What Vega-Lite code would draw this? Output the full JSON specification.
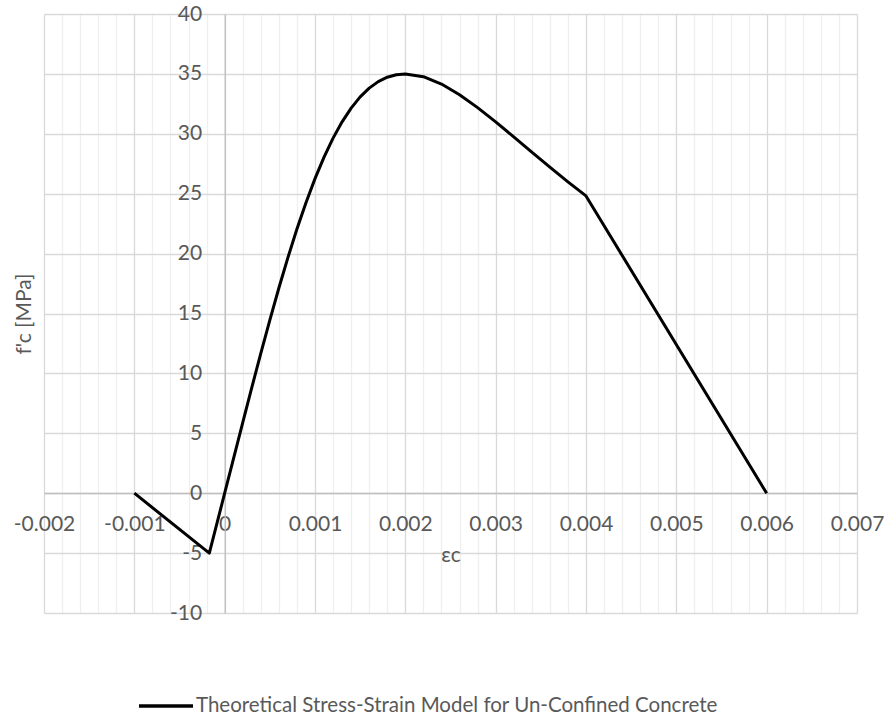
{
  "$schema": "https://vega.github.io/schema/vega-lite/v6.json",
  "width": 813,
  "height": 599,
  "autosize": "none",
  "padding": {"left": 44, "top": 14, "right": 31, "bottom": 108},
  "background": "white",
  "config": {
    "font": "Lato",
    "view": {"stroke": null},
    "axis": {"labelFont": "Lato", "titleFont": "Lato", "labelColor": "#595959", "titleColor": "#595959", "titleFontWeight": "normal"}
  },
  "data": {
    "values": [
      {"strain": -0.001, "stress": 0, "series": "Theoretical Stress-Strain Model for Un-Confined Concrete"},
      {"strain": -0.00017, "stress": -5, "series": "Theoretical Stress-Strain Model for Un-Confined Concrete"},
      {"strain": 0, "stress": 0, "series": "Theoretical Stress-Strain Model for Un-Confined Concrete"},
      {"strain": 0.0001, "stress": 2.956, "series": "Theoretical Stress-Strain Model for Un-Confined Concrete"},
      {"strain": 0.0002, "stress": 5.901, "series": "Theoretical Stress-Strain Model for Un-Confined Concrete"},
      {"strain": 0.0003, "stress": 8.815, "series": "Theoretical Stress-Strain Model for Un-Confined Concrete"},
      {"strain": 0.0004, "stress": 11.674, "series": "Theoretical Stress-Strain Model for Un-Confined Concrete"},
      {"strain": 0.0005, "stress": 14.454, "series": "Theoretical Stress-Strain Model for Un-Confined Concrete"},
      {"strain": 0.0006, "stress": 17.127, "series": "Theoretical Stress-Strain Model for Un-Confined Concrete"},
      {"strain": 0.0007, "stress": 19.667, "series": "Theoretical Stress-Strain Model for Un-Confined Concrete"},
      {"strain": 0.0008, "stress": 22.048, "series": "Theoretical Stress-Strain Model for Un-Confined Concrete"},
      {"strain": 0.0009, "stress": 24.252, "series": "Theoretical Stress-Strain Model for Un-Confined Concrete"},
      {"strain": 0.001, "stress": 26.258, "series": "Theoretical Stress-Strain Model for Un-Confined Concrete"},
      {"strain": 0.0011, "stress": 28.057, "series": "Theoretical Stress-Strain Model for Un-Confined Concrete"},
      {"strain": 0.0012, "stress": 29.638, "series": "Theoretical Stress-Strain Model for Un-Confined Concrete"},
      {"strain": 0.0013, "stress": 31.001, "series": "Theoretical Stress-Strain Model for Un-Confined Concrete"},
      {"strain": 0.0014, "stress": 32.146, "series": "Theoretical Stress-Strain Model for Un-Confined Concrete"},
      {"strain": 0.0015, "stress": 33.081, "series": "Theoretical Stress-Strain Model for Un-Confined Concrete"},
      {"strain": 0.0016, "stress": 33.813, "series": "Theoretical Stress-Strain Model for Un-Confined Concrete"},
      {"strain": 0.0017, "stress": 34.356, "series": "Theoretical Stress-Strain Model for Un-Confined Concrete"},
      {"strain": 0.0018, "stress": 34.724, "series": "Theoretical Stress-Strain Model for Un-Confined Concrete"},
      {"strain": 0.0019, "stress": 34.934, "series": "Theoretical Stress-Strain Model for Un-Confined Concrete"},
      {"strain": 0.002, "stress": 35, "series": "Theoretical Stress-Strain Model for Un-Confined Concrete"},
      {"strain": 0.0022, "stress": 34.768, "series": "Theoretical Stress-Strain Model for Un-Confined Concrete"},
      {"strain": 0.0024, "stress": 34.151, "series": "Theoretical Stress-Strain Model for Un-Confined Concrete"},
      {"strain": 0.0026, "stress": 33.259, "series": "Theoretical Stress-Strain Model for Un-Confined Concrete"},
      {"strain": 0.0028, "stress": 32.183, "series": "Theoretical Stress-Strain Model for Un-Confined Concrete"},
      {"strain": 0.003, "stress": 30.994, "series": "Theoretical Stress-Strain Model for Un-Confined Concrete"},
      {"strain": 0.0032, "stress": 29.746, "series": "Theoretical Stress-Strain Model for Un-Confined Concrete"},
      {"strain": 0.0034, "stress": 28.478, "series": "Theoretical Stress-Strain Model for Un-Confined Concrete"},
      {"strain": 0.0036, "stress": 27.222, "series": "Theoretical Stress-Strain Model for Un-Confined Concrete"},
      {"strain": 0.0038, "stress": 25.994, "series": "Theoretical Stress-Strain Model for Un-Confined Concrete"},
      {"strain": 0.004, "stress": 24.813, "series": "Theoretical Stress-Strain Model for Un-Confined Concrete"},
      {"strain": 0.006, "stress": 0, "series": "Theoretical Stress-Strain Model for Un-Confined Concrete"}
    ]
  },
  "mark": {"type": "line", "strokeWidth": 3, "strokeJoin": "round", "clip": false},
  "encoding": {
    "x": {
      "field": "strain",
      "type": "quantitative",
      "scale": {"domain": [-0.002, 0.007], "nice": false, "zero": false},
      "axis": {
        "values": [-0.002, -0.0018, -0.0016, -0.0014, -0.0012, -0.001, -0.0008, -0.0006, -0.0004, -0.0002, 0, 0.0002, 0.0004, 0.0006, 0.0008, 0.001, 0.0012, 0.0014, 0.0016, 0.0018, 0.002, 0.0022, 0.0024, 0.0026, 0.0028, 0.003, 0.0032, 0.0034, 0.0036, 0.0038, 0.004, 0.0042, 0.0044, 0.0046, 0.0048, 0.005, 0.0052, 0.0054, 0.0056, 0.0058, 0.006, 0.0062, 0.0064, 0.0066, 0.0068, 0.007],
        "labelExpr": "abs(datum.value*1000 - round(datum.value*1000)) < 0.001 ? '' + datum.value : ''",
        "grid": true,
        "gridColor": {"condition": {"test": "abs(datum.value*1000 - round(datum.value*1000)) < 0.001", "value": "#d9d9d9"}, "value": "#efefef"},
        "gridWidth": 1.3,
        "ticks": false,
        "domain": true,
        "domainColor": "#bfbfbf",
        "domainWidth": 1.3,
        "offset": -120,
        "labelPadding": 20,
        "labelFontSize": 21,
        "labelOverlap": false,
        "labelFlush": false,
        "title": "εc",
        "titleFontSize": 21,
        "titleY": 51
      }
    },
    "y": {
      "field": "stress",
      "type": "quantitative",
      "scale": {"domain": [-10, 40], "nice": false, "zero": false},
      "axis": {
        "values": [-10, -5, 0, 5, 10, 15, 20, 25, 30, 35, 40],
        "labelExpr": "'' + datum.value",
        "grid": true,
        "gridColor": "#d9d9d9",
        "gridWidth": 1.3,
        "ticks": false,
        "domain": true,
        "domainColor": "#bfbfbf",
        "domainWidth": 1.3,
        "offset": -180.7,
        "labelPadding": 23,
        "labelFontSize": 21,
        "labelOverlap": false,
        "title": "f'c [MPa]",
        "titleFontSize": 21,
        "titleX": -190
      }
    },
    "color": {
      "field": "series",
      "type": "nominal",
      "scale": {"range": ["#000000"]},
      "legend": {
        "title": null,
        "orient": "none",
        "legendX": 93,
        "legendY": 663,
        "symbolType": "stroke",
        "symbolSize": 2916,
        "symbolStrokeWidth": 3.5,
        "labelFontSize": 20.5,
        "labelLimit": 0,
        "labelColor": "#595959",
        "labelFont": "Lato",
        "labelOffset": 1
      }
    }
  }
}
